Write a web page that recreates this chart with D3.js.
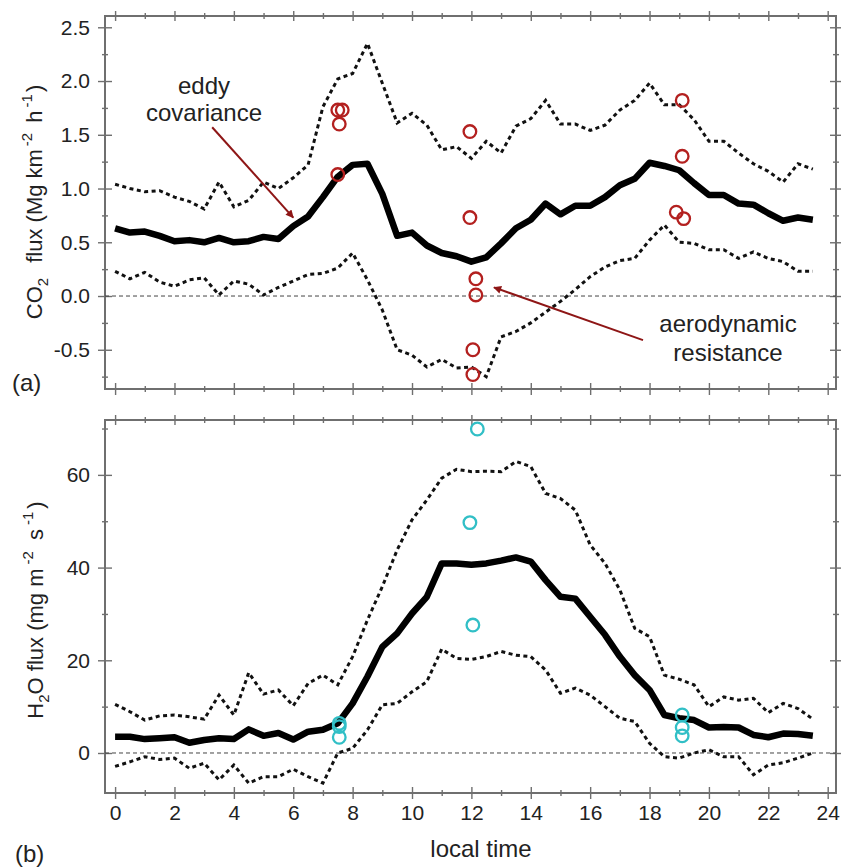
<!DOCTYPE html>
<html>
<head>
<meta charset="utf-8">
<script src="https://cdn.jsdelivr.net/npm/d3@7"></script>
<style>
  html, body { margin: 0; padding: 0; background: #fff; }
  svg { display: block; font-family: "Liberation Sans", Arial, sans-serif; }
</style>
</head>
<body>
<svg id="chart" width="841" height="868"></svg>
<script>
// half-hourly local time
const hours = d3.range(0, 24, 0.5);

// CO2 flux (Mg km-2 h-1): eddy covariance mean and its spread
const co2Mean = [0.63, 0.59, 0.60, 0.56, 0.51, 0.52, 0.50, 0.54, 0.50, 0.51, 0.55, 0.53,
                 0.65, 0.74, 0.92, 1.11, 1.22, 1.23, 0.95, 0.56, 0.59, 0.47, 0.40, 0.37,
                 0.32, 0.36, 0.49, 0.63, 0.71, 0.86, 0.76, 0.84, 0.84, 0.92, 1.03, 1.09,
                 1.24, 1.21, 1.17, 1.05, 0.94, 0.94, 0.86, 0.85, 0.77, 0.70, 0.73, 0.71];
const co2Upper = [1.04, 1.00, 0.97, 0.98, 0.92, 0.88, 0.81, 1.06, 0.83, 0.89, 1.06, 1.00,
                  1.10, 1.22, 1.76, 2.02, 2.07, 2.35, 1.98, 1.61, 1.70, 1.59, 1.36, 1.39,
                  1.28, 1.44, 1.33, 1.58, 1.65, 1.82, 1.60, 1.60, 1.54, 1.59, 1.73, 1.82,
                  1.98, 1.78, 1.78, 1.64, 1.44, 1.44, 1.33, 1.23, 1.16, 1.06, 1.23, 1.18];
const co2Lower = [0.23, 0.16, 0.22, 0.13, 0.09, 0.15, 0.17, 0.01, 0.14, 0.11, 0.01, 0.08,
                  0.14, 0.20, 0.21, 0.26, 0.40, 0.15, -0.13, -0.50, -0.55, -0.66, -0.59, -0.67,
                  -0.66, -0.75, -0.38, -0.33, -0.25, -0.15, -0.05, 0.06, 0.18, 0.27, 0.33, 0.35,
                  0.52, 0.66, 0.50, 0.49, 0.43, 0.43, 0.35, 0.41, 0.35, 0.32, 0.23, 0.23];

// CO2 flux from the aerodynamic resistance method
const co2ArHour  = [7.50, 7.65, 7.55, 7.50, 11.95, 11.95, 12.15, 12.15, 12.05, 12.05, 19.10, 19.10, 18.90, 19.15];
const co2ArValue = [1.73, 1.73, 1.60, 1.13, 1.53, 0.73, 0.16, 0.01, -0.50, -0.73, 1.82, 1.30, 0.78, 0.72];

// H2O flux (mg m-2 s-1): eddy covariance mean and its spread
const h2oMean = [3.5, 3.5, 3.0, 3.2, 3.4, 2.2, 2.8, 3.2, 3.0, 5.1, 3.7, 4.3,
                 2.9, 4.6, 5.0, 6.4, 10.7, 16.5, 22.9, 25.8, 30.1, 33.7, 40.9, 40.9,
                 40.6, 40.9, 41.5, 42.2, 41.3, 37.3, 33.7, 33.3, 29.4, 25.5, 20.8, 16.8,
                 13.6, 8.2, 7.5, 7.1, 5.5, 5.6, 5.5, 3.9, 3.4, 4.2, 4.1, 3.7];
const h2oUpper = [10.5, 8.9, 7.1, 8.0, 8.2, 7.8, 7.3, 12.5, 8.2, 17.3, 12.7, 13.6,
                  10.2, 15.0, 16.8, 14.7, 20.8, 28.7, 35.9, 43.8, 50.3, 54.6, 59.3, 61.2,
                  60.7, 60.8, 60.7, 62.9, 61.8, 56.0, 54.9, 52.4, 44.9, 40.9, 35.2, 26.9,
                  25.1, 16.8, 15.9, 14.7, 10.0, 12.1, 11.4, 11.8, 8.7, 10.7, 9.6, 7.3];
const h2oLower = [-2.9, -1.9, -0.8, -1.4, -1.1, -3.3, -2.2, -5.8, -2.6, -6.5, -5.1, -5.1,
                  -3.5, -5.1, -6.5, 0.0, 1.0, 5.0, 10.4, 10.7, 13.2, 15.4, 22.4, 20.4,
                  20.2, 20.8, 21.9, 21.1, 20.8, 17.9, 12.9, 14.0, 12.5, 10.0, 7.5, 6.8,
                  2.1, -0.8, -1.1, 0.0, 0.7, -0.8, -0.8, -4.7, -2.6, -2.1, -1.1, 0.0];

// H2O flux from the aerodynamic resistance method
const h2oArHour  = [7.55, 7.55, 7.55, 12.20, 11.95, 12.05, 19.10, 19.10, 19.10];
const h2oArValue = [6.4, 5.7, 3.4, 69.9, 49.7, 27.6, 8.2, 5.5, 3.7];

// axis ticks
const xMajorTicks = [0, 2, 4, 6, 8, 10, 12, 14, 16, 18, 20, 22, 24];
const xMinorTicks = [1, 3, 5, 7, 9, 11, 13, 15, 17, 19, 21, 23];
const co2MajorTicks = [-0.5, 0.0, 0.5, 1.0, 1.5, 2.0, 2.5];
const co2MinorTicks = [-0.75, -0.25, 0.25, 0.75, 1.25, 1.75, 2.25];
const h2oMajorTicks = [0, 20, 40, 60];
const h2oMinorTicks = [10, 30, 50, 70];

const svg = d3.select("#chart");
const frameLeft = 105, frameRight = 836;
const topPanel = { y0: 16, y1: 389 };
const botPanel = { y0: 420, y1: 793 };

const x = d3.scaleLinear().domain([-0.34, 24.28]).range([frameLeft, frameRight]);
const yCO2 = d3.scaleLinear().domain([-0.865, 2.605]).range([topPanel.y1, topPanel.y0]);
const yH2O = d3.scaleLinear().domain([-8.63, 71.84]).range([botPanel.y1, botPanel.y0]);

const frameColor = "#6f6f6f";
const textColor = "#222";

// arrowhead for the annotations
svg.append("defs").append("marker")
  .attr("id", "arrowhead")
  .attr("viewBox", "0 0 10 10")
  .attr("refX", 9).attr("refY", 5)
  .attr("markerWidth", 10).attr("markerHeight", 8)
  .attr("markerUnits", "userSpaceOnUse")
  .attr("orient", "auto")
  .append("path")
  .attr("d", "M0,0 L10,5 L0,10 z")
  .attr("fill", "#8e1616");

// ticks that cross the frame line: outer part from the axis, inner part added
function crossTicks(g, axis, values, size, dir, fmt, padding) {
  axis.tickValues(values).tickSize(size).tickPadding(padding || 3)
      .tickFormat(fmt || (() => ""));
  g.call(axis);
  g.select(".domain").remove();
  g.selectAll(".tick line")
    .attr("stroke", frameColor).attr("stroke-width", 1.4)
    .each(function () {
      const l = d3.select(this);
      if (dir === "x") l.attr("x1", -l.attr("x2"));
      else l.attr("y1", -l.attr("y2"));
    });
  g.selectAll(".tick text")
    .attr("fill", textColor)
    .style("font-size", "21px")
    .style("font-family", "'Liberation Sans', Arial, sans-serif");
}

function drawPanel(panel, yScale, yMajor, yMinor, showXLabels, yFmt) {
  const g = svg.append("g");
  // left axis
  crossTicks(g.append("g").attr("transform", `translate(${frameLeft},0)`),
    d3.axisLeft(yScale), yMajor, 7, "x", yFmt, 8);
  crossTicks(g.append("g").attr("transform", `translate(${frameLeft},0)`),
    d3.axisLeft(yScale), yMinor, 3, "x");
  // right axis
  crossTicks(g.append("g").attr("transform", `translate(${frameRight},0)`),
    d3.axisRight(yScale), yMajor, 6, "x");
  crossTicks(g.append("g").attr("transform", `translate(${frameRight},0)`),
    d3.axisRight(yScale), yMinor, 3, "x");
  // top axis
  crossTicks(g.append("g").attr("transform", `translate(0,${panel.y0})`),
    d3.axisTop(x), xMajorTicks, 5, "y");
  crossTicks(g.append("g").attr("transform", `translate(0,${panel.y0})`),
    d3.axisTop(x), xMinorTicks, 3, "y");
  // bottom axis
  crossTicks(g.append("g").attr("transform", `translate(0,${panel.y1})`),
    d3.axisBottom(x), xMajorTicks, 6, "y", showXLabels ? (d => String(d)) : null, 6);
  crossTicks(g.append("g").attr("transform", `translate(0,${panel.y1})`),
    d3.axisBottom(x), xMinorTicks, 3, "y");
  // frame
  g.append("rect")
    .attr("x", frameLeft).attr("y", panel.y0)
    .attr("width", frameRight - frameLeft).attr("height", panel.y1 - panel.y0)
    .attr("fill", "none").attr("stroke", frameColor).attr("stroke-width", 2);
  // zero reference
  g.append("line")
    .attr("x1", frameLeft).attr("x2", frameRight)
    .attr("y1", yScale(0)).attr("y2", yScale(0))
    .attr("stroke", "#444").attr("stroke-width", 1)
    .attr("stroke-dasharray", "4,3");
  return g;
}

function drawSeries(g, yScale, mean, upper, lower) {
  const line = d3.line().x((d, i) => x(hours[i])).y(d => yScale(d));
  [upper, lower].forEach(s => {
    g.append("path").datum(s).attr("d", line)
      .attr("fill", "none").attr("stroke", "#111")
      .attr("stroke-width", 3).attr("stroke-dasharray", "4,3.5");
  });
  g.append("path").datum(mean).attr("d", line)
    .attr("fill", "none").attr("stroke", "#000")
    .attr("stroke-width", 6.5).attr("stroke-linejoin", "round");
}

function drawCircles(g, yScale, hrs, vals, color) {
  g.selectAll(null).data(vals).join("circle")
    .attr("cx", (d, i) => x(hrs[i]))
    .attr("cy", d => yScale(d))
    .attr("r", 6.3)
    .attr("fill", "none")
    .attr("stroke", color)
    .attr("stroke-width", 2.3);
}

// ---- panel (a): CO2 ----
const gA = drawPanel(topPanel, yCO2, co2MajorTicks, co2MinorTicks, false, d => d.toFixed(1));
drawSeries(gA, yCO2, co2Mean, co2Upper, co2Lower);
drawCircles(gA, yCO2, co2ArHour, co2ArValue, "#b3201f");

// ---- panel (b): H2O ----
const gB = drawPanel(botPanel, yH2O, h2oMajorTicks, h2oMinorTicks, true, d => String(d));
drawSeries(gB, yH2O, h2oMean, h2oUpper, h2oLower);
drawCircles(gB, yH2O, h2oArHour, h2oArValue, "#31bfc6");

// ---- annotations ----
function annotate(lines, cx, baselines, from, to) {
  lines.forEach((t, i) => {
    svg.append("text").attr("x", cx).attr("y", baselines[i])
      .attr("text-anchor", "middle").attr("fill", textColor)
      .style("font-size", "24px").text(t);
  });
  svg.append("line")
    .attr("x1", x(from[0])).attr("y1", yCO2(from[1]))
    .attr("x2", x(to[0])).attr("y2", yCO2(to[1]))
    .attr("stroke", "#8e1616").attr("stroke-width", 2)
    .attr("marker-end", "url(#arrowhead)");
}
annotate(["eddy", "covariance"], 204, [94, 121], [3.27, 1.57], [6.0, 0.73]);
annotate(["aerodynamic", "resistance"], 728, [332, 361], [17.78, -0.41], [12.76, 0.08]);

// ---- axis titles ----
function yTitle(cx, cy, parts) {
  const t = svg.append("text")
    .attr("transform", `translate(${cx},${cy}) rotate(-90)`)
    .attr("text-anchor", "middle").attr("fill", textColor)
    .style("font-size", "22px");
  parts.forEach(p => {
    const s = t.append("tspan").text(p.text);
    if (p.dy) s.attr("dy", p.dy);
    if (p.dx) s.attr("dx", p.dx);
    if (p.size) s.style("font-size", p.size);
  });
}
yTitle(42, 202, [
  { text: "CO" },
  { text: "2", dy: 6, size: "15px" },
  { text: " flux (Mg km", dy: -6, dx: 9 },
  { text: "-2", dy: -10, dx: 3, size: "15px" },
  { text: " h", dy: 10, dx: 4 },
  { text: "-1", dy: -10, dx: 3, size: "15px" },
  { text: ")", dy: 10, dx: 2 }
]);
yTitle(43, 610, [
  { text: "H" },
  { text: "2", dy: 6, size: "15px" },
  { text: "O flux (mg m", dy: -6 },
  { text: "-2", dy: -10, dx: 4, size: "15px" },
  { text: " s", dy: 10, dx: 5 },
  { text: "-1", dy: -10, dx: 4, size: "15px" },
  { text: ")", dy: 10, dx: 3 }
]);

svg.append("text").attr("x", 481).attr("y", 857)
  .attr("text-anchor", "middle").attr("fill", textColor)
  .style("font-size", "24px").text("local time");

svg.append("text").attr("x", 12).attr("y", 391)
  .attr("fill", textColor).style("font-size", "24px").text("(a)");
svg.append("text").attr("x", 15).attr("y", 862)
  .attr("fill", textColor).style("font-size", "24px").text("(b)");
</script>
</body>
</html>
